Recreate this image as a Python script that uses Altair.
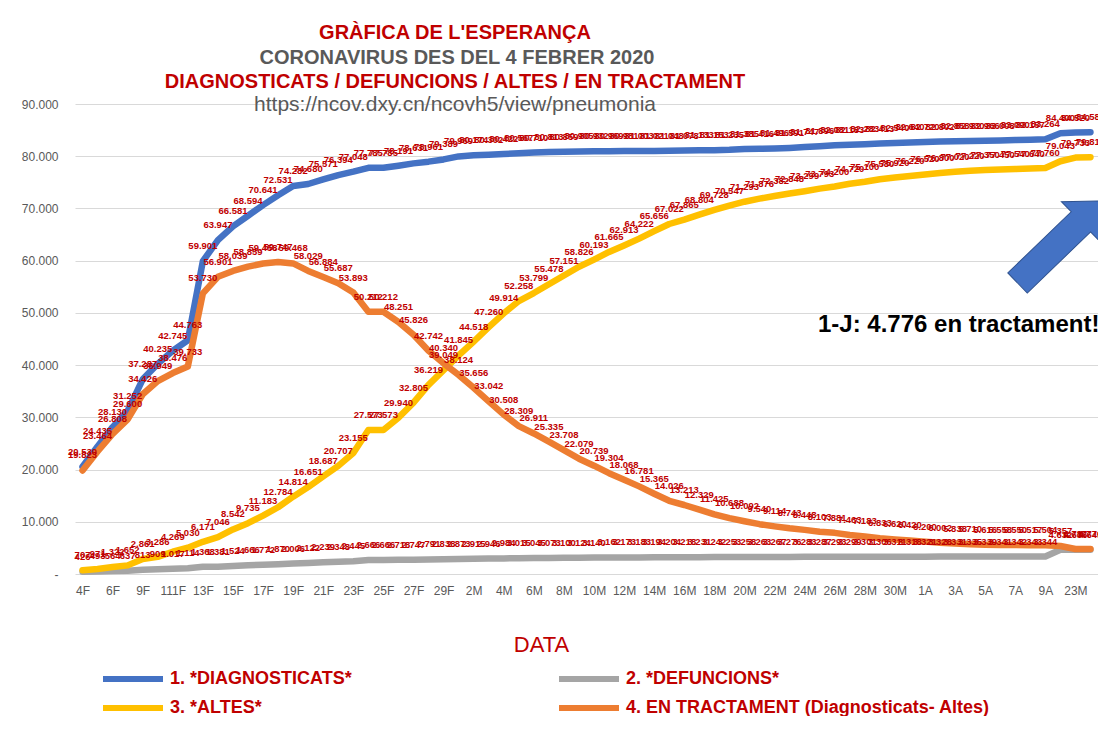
import altair as alt
import pandas as pd

categories = ["4F", "5F", "6F", "7F", "9F", "10F", "111F", "12F", "13F", "14F", "15F", "16F", "17F", "18F",
              "19F", "20F", "21F", "22F", "23F", "24F", "25F", "26F", "27F", "28F", "29F", "1M", "2M", "3M",
              "4M", "5M", "6M", "7M", "8M", "9M", "10M", "11M", "12M", "13M", "14M", "15M", "16M", "17M",
              "18M", "19M", "20M", "21M", "22M", "23M", "24M", "25M", "26M", "27M", "28M", "29M", "30M",
              "31M", "1A", "2A", "3A", "4A", "5A", "6A", "7A", "8A", "9A", "17A", "23M", "1J"]

diagnosticats = [20530, 24435, 28130, 31252, 37287, 40235, 42745, 44763, 59901, 63947, 66581, 68594,
                 70641, 72531, 74282, 74680, 75571, 76394, 77048, 77785, 77785, 78191, 78631, 78961,
                 79389, 79969, 80174, 80302, 80422, 80567, 80710, 80813, 80859, 80905, 80932, 80969,
                 80981, 81003, 81021, 81048, 81078, 81133, 81153, 81235, 81385, 81416, 81496, 81591,
                 81747, 81896, 82081, 82183, 82283, 82413, 82540, 82640, 82720, 82802, 82858, 82930,
                 82966, 83008, 83090, 83157, 83264, 84400, 84520, 84588]

defuncions = [426, 493, 564, 637, 813, 909, 1017, 1114, 1368, 1381, 1524, 1666, 1772, 1870, 2006, 2122,
              2239, 2348, 2445, 2666, 2666, 2718, 2747, 2791, 2838, 2873, 2915, 2946, 2984, 3015, 3045,
              3073, 3100, 3124, 3140, 3162, 3173, 3183, 3194, 3204, 3218, 3231, 3242, 3253, 3258, 3263,
              3267, 3276, 3283, 3287, 3293, 3299, 3301, 3306, 3311, 3318, 3321, 3328, 3331, 3335, 3339,
              3341, 3342, 3343, 3344, 4632, 4636, 4645]

altes = [707, 971, 1322, 1652, 2861, 3286, 4269, 5030, 6171, 7046, 8542, 9735, 11183, 12784, 14814,
         16651, 18687, 20707, 23155, 27573, 27573, 29940, 32805, 36219, 39049, 41845, 44518, 47260,
         49914, 52258, 53799, 55478, 57151, 58826, 60193, 61665, 62913, 64222, 65656, 67022, 67865,
         68804, 69728, 70547, 71293, 71876, 72382, 72848, 73299, 73793, 74200, 74720, 75100, 75580,
         75920, 76220, 76520, 76800, 77020, 77220, 77350, 77450, 77540, 77640, 77760, 79043, 79733, 79812]

en_tractament = [19823, 23464, 26808, 29600, 34426, 36949, 38476, 39733, 53730, 56901, 58039, 58859,
                 59458, 59747, 59468, 58029, 56884, 55687, 53893, 50212, 50212, 48251, 45826, 42742,
                 40340, 38124, 35656, 33042, 30508, 28309, 26911, 25335, 23708, 22079, 20739, 19304,
                 18068, 16781, 15365, 14026, 13213, 12329, 11425, 10688, 10092, 9540, 9114, 8743, 8448,
                 8103, 7881, 7463, 7183, 6833, 6620, 6420, 6200, 6002, 5838, 5710, 5616, 5558, 5550,
                 5517, 5504, 5357, 4787, 4776]

y_ticks = [0, 10000, 20000, 30000, 40000, 50000, 60000, 70000, 80000, 90000]

series_names = ["1. *DIAGNOSTICATS*", "2. *DEFUNCIONS*", "3. *ALTES*",
                "4. EN TRACTAMENT (Diagnosticats- Altes)"]
series_colors = ["#4472C4", "#A5A5A5", "#FFC000", "#ED7D31"]

title_lines = ["GRÀFICA DE L'ESPERANÇA", "CORONAVIRUS DES DEL 4 FEBRER 2020",
               "DIAGNOSTICATS / DEFUNCIONS / ALTES / EN TRACTAMENT",
               "https://ncov.dxy.cn/ncovh5/view/pneumonia"]
annotation_text = "1-J: 4.776 en tractament!"

rows = []
for name, vals in zip(series_names, [diagnosticats, defuncions, altes, en_tractament]):
    for i, v in enumerate(vals):
        rows.append({"serie": name, "idx": i, "valor": v,
                     "etiqueta": f"{v:,}".replace(",", ".")})
df = pd.DataFrame(rows)

label_js = "[" + ",".join("'" + c + "'" for c in categories) + "]"

FONT = "Liberation Sans"
RED = "#C00000"

x_enc = alt.X("idx:Q",
              scale=alt.Scale(domain=[-0.5, len(categories) - 0.5], nice=False, zero=False),
              axis=alt.Axis(values=list(range(0, len(categories), 2)), tickCount=200,
                            labelExpr=label_js + "[datum.value]",
                            labelFlush=False, labelOverlap=False,
                            grid=False, ticks=False, tickSize=0, domain=False,
                            labelColor="#595959", labelFontSize=12, labelFont=FONT,
                            labelPadding=11,
                            title="DATA", titleColor=RED, titleFontSize=22,
                            titleFontWeight="normal", titleFont=FONT,
                            titleX=466, titleY=70, titleBaseline="middle",
                            titleAnchor="middle"))
y_enc = alt.Y("valor:Q",
              scale=alt.Scale(domain=[0, 90000], nice=False),
              axis=alt.Axis(values=y_ticks, tickCount=20,
                            labelExpr="datum.value == 0 ? '-' : replace(format(datum.value, ','), ',', '.')",
                            title=None, domain=False, ticks=False, tickSize=0,
                            gridColor="#D9D9D9", gridWidth=1,
                            labelColor="#595959", labelFontSize=12, labelFont=FONT,
                            labelPadding=17))

color_enc = alt.Color("serie:N",
                      scale=alt.Scale(domain=series_names, range=series_colors),
                      legend=alt.Legend(orient="none", legendX=25, legendY=562, columns=2,
                                        direction="horizontal",
                                        columnPadding=195, rowPadding=4,
                                        symbolType="M -1,0 L 5,0", symbolSize=400,
                                        symbolStrokeWidth=6,
                                        labelColor=RED, labelFontSize=18, labelFont=FONT,
                                        labelFontWeight="bold", labelLimit=0, title=None,
                                        labelOffset=44))

lines = alt.Chart(df).mark_line(strokeWidth=6.5, strokeCap="round", strokeJoin="round").encode(
    x=x_enc, y=y_enc, color=color_enc, order=alt.Order("idx:Q"))

labels = alt.Chart(df).mark_text(font=FONT, fontSize=9.5, fontWeight="bold", color=RED,
                                 dy=-15, baseline="middle").encode(
    x=alt.X("idx:Q"), y=alt.Y("valor:Q"), text="etiqueta:N")

t1 = alt.Chart(pd.DataFrame({"t": [title_lines[0]]})).mark_text(
    font=FONT, fontSize=20, fontWeight="bold", color=RED, align="center", baseline="middle").encode(
    text="t:N", x=alt.value(380), y=alt.value(-71))
t2 = alt.Chart(pd.DataFrame({"t": [title_lines[1]]})).mark_text(
    font=FONT, fontSize=20, fontWeight="bold", color="#595959", align="center", baseline="middle").encode(
    text="t:N", x=alt.value(382), y=alt.value(-46))
t3 = alt.Chart(pd.DataFrame({"t": [title_lines[2]]})).mark_text(
    font=FONT, fontSize=20, fontWeight="bold", color=RED, align="center", baseline="middle").encode(
    text="t:N", x=alt.value(380), y=alt.value(-22))
t4 = alt.Chart(pd.DataFrame({"t": [title_lines[3]]})).mark_text(
    font=FONT, fontSize=21, fontWeight="normal", color="#595959", align="center", baseline="middle").encode(
    text="t:N", x=alt.value(380), y=alt.value(1))

ann = alt.Chart(pd.DataFrame({"t": [annotation_text]})).mark_text(
    font=FONT, fontSize=24, fontWeight="bold", color="#000000", align="left", baseline="middle").encode(
    text="t:N", x=alt.value(743), y=alt.value(221))

arrow_path = "M -1,-0.237 L 0.492,-0.237 L 0.492,-0.475 L 1,0 L 0.492,0.475 L 0.492,0.237 L -1,0.237 Z"
arrow = alt.Chart(pd.DataFrame({"a": [1]})).mark_point(
    shape=arrow_path, filled=True, size=13924, angle=316, fill="#4472C4",
    stroke="#2F528F", strokeWidth=1, opacity=1).encode(
    x=alt.value(985), y=alt.value(138))

chart = alt.layer(lines, labels, t1, t2, t3, t4, ann, arrow).properties(
    width=1023, height=470,
    autosize=alt.AutoSizeParams(type="none"),
    padding={"left": 67, "top": 96, "right": 0, "bottom": 142},
    background="white",
).configure_view(stroke=None)

chart.save("out.html", embed_options={"renderer": "svg", "actions": False})
